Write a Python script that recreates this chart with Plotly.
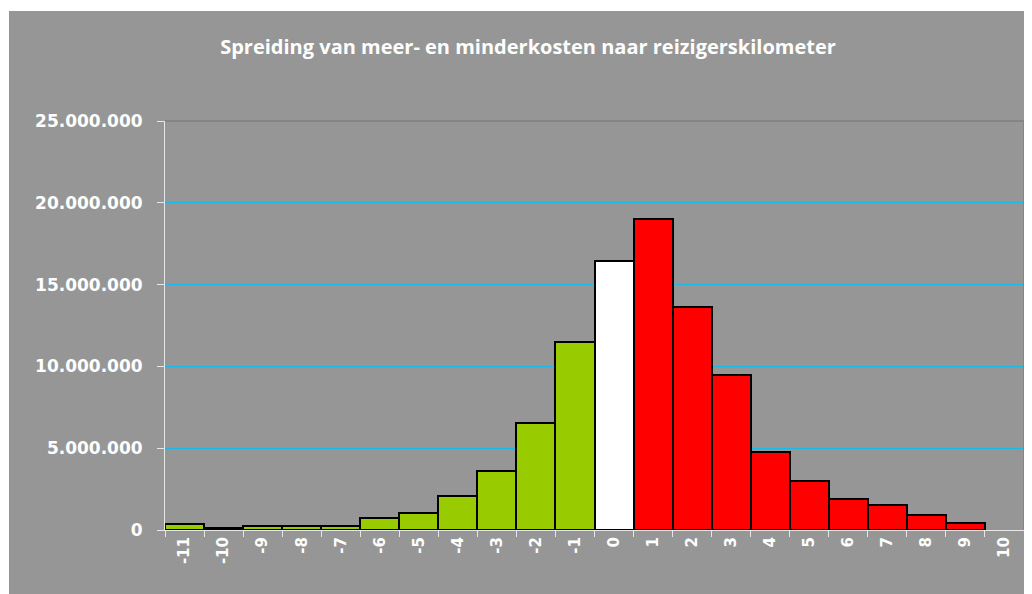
import plotly.graph_objects as go

# ---- data ----
categories = ["-11", "-10", "-9", "-8", "-7", "-6", "-5", "-4", "-3", "-2", "-1",
              "0", "1", "2", "3", "4", "5", "6", "7", "8", "9", "10"]
values = [370000, 100000, 230000, 230000, 230000, 720000, 1060000, 2060000,
          3630000, 6560000, 11480000, 16460000, 19030000, 13650000, 9500000,
          4750000, 3000000, 1910000, 1550000, 940000, 430000, 0]
y_tickvals = [0, 5000000, 10000000, 15000000, 20000000, 25000000]
y_ticktext = ["0", "5.000.000", "10.000.000", "15.000.000", "20.000.000", "25.000.000"]
title_text = "Spreiding van meer- en minderkosten naar reizigerskilometer"

GREEN = "#99cc00"
RED = "#ff0000"
WHITE = "#ffffff"
BG = "#969696"

colors = []
for c in categories:
    v = int(c)
    colors.append(GREEN if v < 0 else (WHITE if v == 0 else RED))
line_widths = [2 if v > 0 else 0 for v in values]

W, H = 1024, 586
L, R, T, B = 157, 8, 113, 64
PW, PH = W - L - R, H - T - B

fig = go.Figure(go.Bar(
    x=categories, y=values,
    marker=dict(color=colors, line=dict(color="#000000", width=line_widths)),
    hoverinfo="x+y",
))

fig.update_layout(
    width=W, height=H,
    margin=dict(l=L, r=R, t=T, b=B),
    paper_bgcolor="#ffffff",
    plot_bgcolor=BG,
    bargap=0,
    showlegend=False,
    title=dict(text=title_text, x=(528 - 8) / W, xanchor="center", y=1 - 39 / H,
               yanchor="middle", yref="container",
               font=dict(family="Open Sans", size=20, color="#ffffff", weight="bold")),
    xaxis=dict(
        type="category", categoryorder="array", categoryarray=categories,
        tickson="boundaries", ticks="outside", ticklen=6, tickcolor="#e6e6e6",
        tickwidth=1,
        showline=True, linecolor="#e6e6e6", linewidth=1,
        tickangle=-90, showgrid=False,
        tickfont=dict(family="DejaVu Sans", size=15, color="#ffffff", weight="bold"),
        range=[-0.5, len(categories) - 0.5],
    ),
    yaxis=dict(
        range=[0, 25000000], tickvals=y_tickvals, ticktext=y_ticktext,
        ticks="outside", ticklen=7, tickcolor="#e6e6e6", tickwidth=1,
        showline=True, linecolor="#e6e6e6", linewidth=1,
        showgrid=True, gridcolor="#1cb8e6", gridwidth=1, zeroline=False,
        ticklabelstandoff=11,
        tickfont=dict(family="DejaVu Sans", size=17, color="#ffffff", weight="bold"),
    ),
    shapes=[
        # grey chart area background
        dict(type="rect", xref="paper", yref="paper",
             x0=(1 - L) / PW, x1=1.05, y0=-0.3, y1=(T + PH - 3) / PH,
             fillcolor=BG, line=dict(width=0), layer="below"),
        # plot-area border top and right
        dict(type="line", xref="paper", yref="paper", x0=0, x1=1, y0=1, y1=1,
             line=dict(color="#858585", width=2), layer="above"),
        dict(type="line", xref="paper", yref="paper", x0=1, x1=1, y0=0, y1=1,
             line=dict(color="#858585", width=2), layer="above"),
    ],
)

fig.write_html("out.html")
